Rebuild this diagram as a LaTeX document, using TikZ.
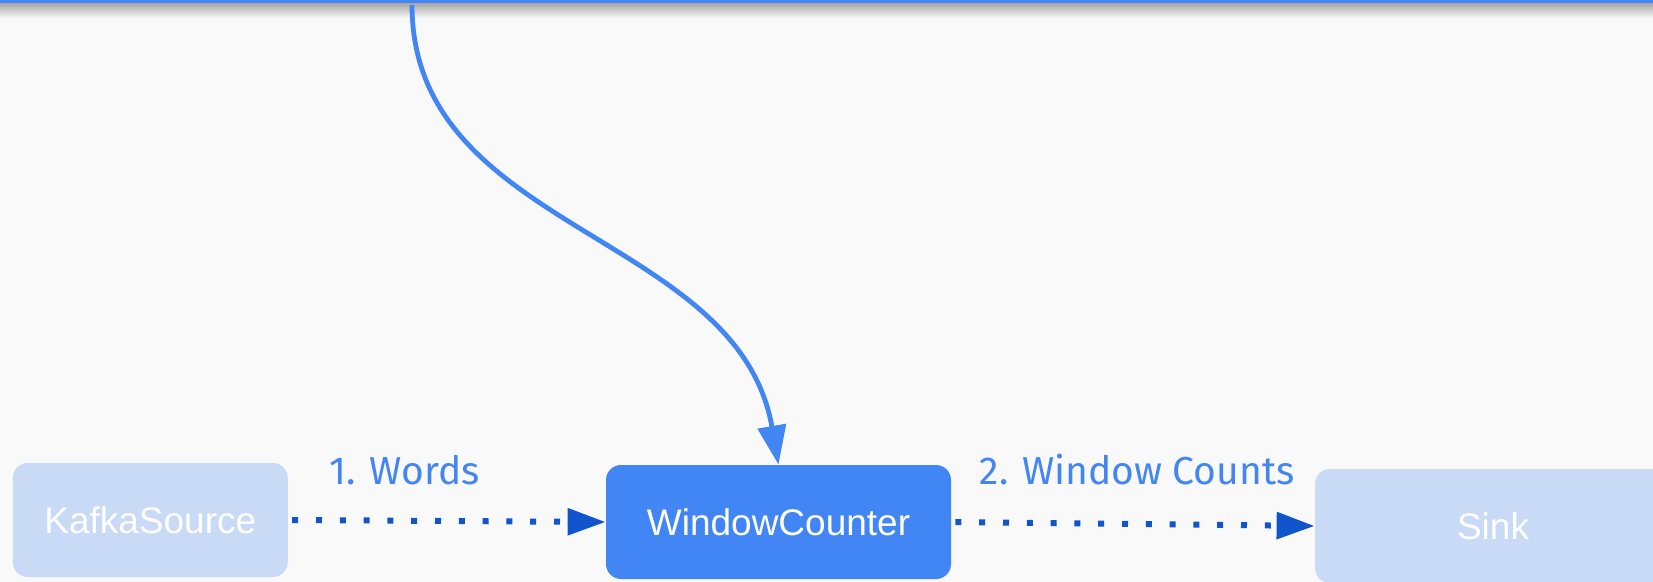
\documentclass[tikz,border=0pt]{standalone}
\usepackage{fontspec}
\setmainfont{Liberation Sans}
\newfontfamily\handfont{Fira Sans}
\usetikzlibrary{arrows.meta}

\definecolor{pagebg}{HTML}{F9F9F9}
\definecolor{gblue}{HTML}{4285F4}
\definecolor{paleblue}{HTML}{C9DAF7}
\definecolor{dotblue}{HTML}{1155CC}

\tikzstyle{stage}=[rounded corners=7.5pt, text=white, inner sep=0pt, minimum height=57pt, font=\fontsize{18.5}{22}\selectfont]
\tikzstyle{idle}=[stage, fill=paleblue]
\tikzstyle{busy}=[stage, fill=gblue]
\tikzstyle{flow}=[dotblue, line width=3pt, dash pattern=on 3pt off 8.9pt, -{Triangle[length=19pt,width=13pt]}]
\tikzstyle{feed}=[gblue, line width=2.4pt, -{Triangle[length=19.5pt,width=14pt]}]
\tikzstyle{flow label}=[gblue, font=\handfont\fontsize{19.5}{22}\selectfont]

\begin{document}
\begin{tikzpicture}[x=0.5pt,y=-0.5pt]

    % Page
    \fill[pagebg] (0,0) rectangle (1653,582);
    \useasboundingbox (0,0) rectangle (1653,582);
    \clip (0,0) rectangle (1653,582);

    % Bar along the top
    \shade[top color=black!35, bottom color=pagebg] (0,3) rectangle (1653,18);
    \fill[gblue] (0,0) rectangle (1653,3.5);

    % Stages
    \node[idle, minimum width=137.5pt] (source) at (150.3,520) {KafkaSource};
    \node[busy, minimum width=172.5pt] (counter) at (778.5,522) {WindowCounter};
    \node[idle, minimum width=178pt] (sink) at (1493,526) {Sink};

    % Input from above
    \coordinate (top) at (412,5);
    \draw[feed] (top) .. controls (412,232) and (738,232) .. (counter.north);

    % Flows
    \draw[flow] ([xshift=2pt]source.east) -- (counter.west);
    \draw[flow] ([xshift=2pt]counter.east) -- (sink.west);
    \node[flow label] (words) at (405,470) {1. Words};
    \node[flow label] (counts) at (1137,470) {2. Window Counts};

\end{tikzpicture}
\end{document}
